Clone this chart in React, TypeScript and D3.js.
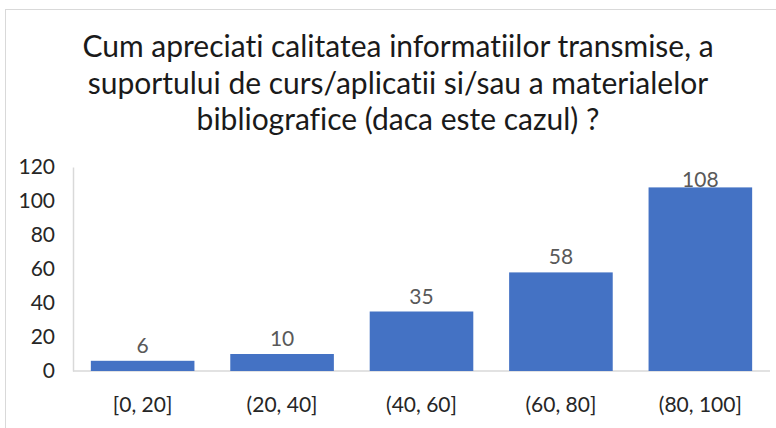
import React, {useEffect, useRef} from "react";
import {axisLeft, scaleBand, scaleLinear, select} from "d3";

// chart values
const categories = ["[0, 20]", "(20, 40]", "(40, 60]", "(60, 80]", "(80, 100]"];
const counts = [6, 10, 35, 58, 108];
const yTicks = [0, 20, 40, 60, 80, 100, 120];
const titleLines = [
    "Cum apreciati calitatea informatiilor transmise, a",
    "suportului de curs/aplicatii si/sau a materialelor",
    "bibliografice (daca este cazul) ?",
];

const width = 776;
const height = 428;
const font = "Lato, 'Open Sans', sans-serif";

function App() {
    const svgRef = useRef<SVGSVGElement>(null);

    useEffect(() => {
        const svg = select(svgRef.current);
        svg.selectAll("*").remove();

        const left = 73, right = 770, top = 167, bottom = 371;

        const xScale = scaleBand()
            .domain(categories)
            .range([left, right])
            .paddingInner(0.257)
            .paddingOuter(0.128);

        const yScale = scaleLinear()
            .domain([0, 120])
            .range([bottom, top]);

        // outer chart border (cropped on right/bottom)
        svg.append("rect")
            .attr("x", 5.5).attr("y", 9.5)
            .attr("width", 900).attr("height", 600)
            .attr("fill", "white")
            .attr("stroke", "#d9d9d9");

        // title
        svg.append("g")
            .selectAll("text")
            .data(titleLines)
            .join("text")
            .attr("x", 398)
            .attr("y", (d, i) => 57 + i * 36.5)
            .attr("text-anchor", "middle")
            .style("font-family", font)
            .style("font-size", "30px")
            .style("font-variant-ligatures", "none")
            .style("fill", "#1a1a1a")
            .text(d => d);

        // y axis
        const yAxis = axisLeft(yScale).tickValues(yTicks).tickSize(0).tickPadding(18);
        const gy = svg.append("g")
            .attr("transform", `translate(${left},0)`)
            .call(yAxis);
        gy.select(".domain").attr("stroke", "#d9d9d9").attr("stroke-width", 1.5);
        gy.selectAll("text")
            .style("font-family", font)
            .style("font-size", "21px")
            .style("fill", "#262626");

        // baseline
        svg.append("line")
            .attr("x1", left).attr("x2", right)
            .attr("y1", yScale(0)).attr("y2", yScale(0))
            .attr("stroke", "#d9d9d9")
            .attr("stroke-width", 1.5);

        // bars
        svg.append("g")
            .selectAll("rect")
            .data(counts)
            .join("rect")
            .attr("x", (d, i) => xScale(categories[i]))
            .attr("y", d => yScale(d))
            .attr("width", xScale.bandwidth())
            .attr("height", d => yScale(0) - yScale(d))
            .attr("fill", "#4472c4");

        // value labels (kept inside the plot area, like Excel does)
        svg.append("g")
            .selectAll("text")
            .data(counts)
            .join("text")
            .attr("x", (d, i) => xScale(categories[i]) + xScale.bandwidth() / 2)
            .attr("y", d => Math.max(yScale(d) - 8, top + 20))
            .attr("text-anchor", "middle")
            .style("font-family", font)
            .style("font-size", "21px")
            .style("fill", "#595959")
            .text(d => d);

        // category labels
        svg.append("g")
            .selectAll("text")
            .data(categories)
            .join("text")
            .attr("x", d => xScale(d) + xScale.bandwidth() / 2)
            .attr("y", 412)
            .attr("text-anchor", "middle")
            .style("font-family", font)
            .style("font-size", "21px")
            .style("fill", "#262626")
            .text(d => d);
    }, []);

    return (
        <svg ref={svgRef} width={width} height={height}
             style={{position: "fixed", left: 0, top: 0, background: "white"}}/>
    );
}

export default App;
